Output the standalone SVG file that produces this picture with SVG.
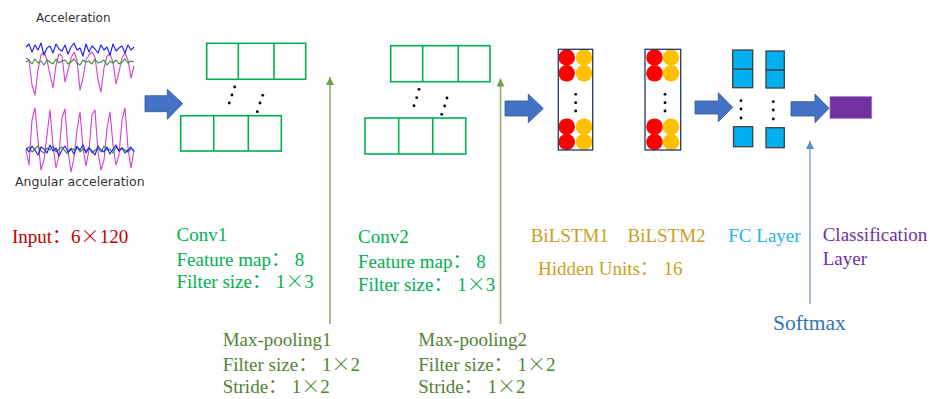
<svg xmlns="http://www.w3.org/2000/svg" width="932" height="399" viewBox="0 0 932 399">
<style>
.t{font-family:"Liberation Serif","Noto Sans CJK SC",serif;font-size:19px}
.x{font-family:"Noto Sans CJK SC",sans-serif;font-weight:300}
.s{font-family:"DejaVu Sans",sans-serif;font-size:12px;fill:#333}
.g{fill:none;stroke:#00b050;stroke-width:1.6}
.ar{fill:#4472c4;stroke:#2f5597;stroke-width:0.8}
.red{fill:#ff0000}.yel{fill:#ffc000}
.box{fill:none;stroke:#1f3864;stroke-width:1.3}
.fc{fill:#00b0f0;stroke:#404040;stroke-width:1.3}
.dot{fill:#000}
.sig{fill:none;stroke-width:1.1;stroke-linejoin:round}
</style>
<defs>
<marker id="ga" markerWidth="10" markerHeight="10" refX="8" refY="4" orient="auto" markerUnits="userSpaceOnUse"><path d="M0,0 L8,4 L0,8 z" fill="#70a04c"/></marker>
<marker id="ba" markerWidth="10" markerHeight="10" refX="8" refY="4" orient="auto" markerUnits="userSpaceOnUse"><path d="M0,0 L8,4 L0,8 z" fill="#5b8bd6"/></marker>
</defs>
<rect width="932" height="399" fill="#fff"/>

<g id="input">
<text class="s" x="36" y="22">Acceleration</text>
<polyline class="sig" stroke="#d040d0" points="26,58 29,60 32,85 35,95 38,70 41,55 44,52 47,60 50,75 53,88 56,65 59,54 62,56 65,82 68,70 71,58 74,52 77,60 80,90 83,78 86,60 89,55 92,52 95,57 98,80 101,92 104,68 107,56 110,54 113,62 116,84 119,72 122,58 125,53 128,60 131,78 134,66"/>
<polyline class="sig" stroke="#3a8a3a" points="26,62 29,60 32,64 35,59 38,63 41,61 44,65 47,60 50,62 53,64 56,59 59,63 62,61 65,60 68,64 71,62 74,59 77,63 80,65 83,60 86,62 89,61 92,64 95,59 98,63 101,62 104,60 107,65 110,61 113,63 116,60 119,64 122,62 125,59 128,63 131,61 134,62"/>
<polyline class="sig" stroke="#1a1aff" points="26,47 29,44 32,52 35,45 38,50 41,43 44,55 47,48 50,46 53,53 56,44 59,49 62,51 65,45 68,54 71,47 74,43 77,50 80,48 83,56 86,44 89,52 92,46 95,49 98,53 101,45 104,50 107,47 110,55 113,44 116,51 119,48 122,46 125,53 128,45 131,50 134,47"/>
<polyline class="sig" stroke="#d040d0" points="26,150 29,165 32,120 35,108 38,140 41,170 44,160 47,135 50,110 53,145 56,168 59,155 62,118 65,109 68,150 71,172 74,158 77,130 80,112 83,148 86,166 89,150 92,115 95,110 98,152 101,170 104,160 107,128 110,112 113,145 116,165 119,155 122,120 125,108 128,148 131,168 134,150"/>
<polyline class="sig" stroke="#3a8a3a" points="26,150 29,147 32,152 35,149 38,146 41,151 44,153 47,148 50,150 53,146 56,152 59,149 62,147 65,151 68,154 71,148 74,150 77,146 80,152 83,149 86,151 89,147 92,153 95,150 98,148 101,152 104,146 107,150 110,149 113,153 116,147 119,151 122,148 125,150 128,152 131,149 134,150"/>
<polyline class="sig" stroke="#1a1aff" points="26,148 29,152 32,146 35,150 38,155 41,147 44,149 47,153 50,145 53,151 56,148 59,156 62,150 65,146 68,152 71,149 74,154 77,147 80,150 83,145 86,153 89,148 92,151 95,155 98,146 101,150 104,152 107,147 110,154 113,149 116,145 119,151 122,148 125,153 128,150 131,147 134,152"/>
<text class="s" x="15" y="186" style="font-size:12.5px">Angular acceleration</text>
</g>

<g id="conv1">
<rect class="g" x="206.7" y="43.3" width="99" height="36"/>
<line class="g" x1="238.3" y1="43.3" x2="238.3" y2="79.3"/>
<line class="g" x1="274" y1="43.3" x2="274" y2="79.3"/>
<rect class="g" x="180.7" y="115.7" width="100.6" height="35.3"/>
<line class="g" x1="213.7" y1="115.7" x2="213.7" y2="151"/>
<line class="g" x1="248.3" y1="115.7" x2="248.3" y2="151"/>
<circle class="dot" cx="234.7" cy="87" r="1.4"/><circle class="dot" cx="232" cy="95" r="1.4"/><circle class="dot" cx="229.3" cy="103" r="1.4"/>
<circle class="dot" cx="262.7" cy="95.3" r="1.4"/><circle class="dot" cx="260" cy="103" r="1.4"/><circle class="dot" cx="257.3" cy="111.7" r="1.4"/>
</g>

<g id="conv2">
<rect class="g" x="390.7" y="45.7" width="99.3" height="36"/>
<line class="g" x1="422.7" y1="45.7" x2="422.7" y2="81.7"/>
<line class="g" x1="458.3" y1="45.7" x2="458.3" y2="81.7"/>
<rect class="g" x="365" y="118" width="100.7" height="36"/>
<line class="g" x1="398.7" y1="118" x2="398.7" y2="154"/>
<line class="g" x1="432.7" y1="118" x2="432.7" y2="154"/>
<circle class="dot" cx="419" cy="89.3" r="1.4"/><circle class="dot" cx="416.7" cy="97.7" r="1.4"/><circle class="dot" cx="414" cy="105.7" r="1.4"/>
<circle class="dot" cx="447" cy="98" r="1.4"/><circle class="dot" cx="444.7" cy="106" r="1.4"/><circle class="dot" cx="441.7" cy="114.3" r="1.4"/>
</g>

<g id="bilstm1">
<circle class="red" cx="566.7" cy="57.5" r="8.3"/><circle class="yel" cx="584" cy="57.5" r="8.3"/>
<circle class="red" cx="566.7" cy="73.3" r="8.3"/><circle class="yel" cx="584" cy="73.3" r="8.3"/>
<circle class="red" cx="566.7" cy="126.7" r="8.3"/><circle class="yel" cx="584" cy="126.7" r="8.3"/>
<circle class="red" cx="566.7" cy="142" r="8.3"/><circle class="yel" cx="584" cy="142" r="8.3"/>
<rect class="box" x="558.3" y="49.3" width="34.4" height="100.7"/>
<circle class="dot" cx="575.7" cy="94.3" r="1.4"/><circle class="dot" cx="575.7" cy="102.7" r="1.4"/><circle class="dot" cx="575.7" cy="111" r="1.4"/>
</g>

<g id="bilstm2">
<circle class="red" cx="654.5" cy="57.5" r="8.3"/><circle class="yel" cx="671" cy="57.5" r="8.3"/>
<circle class="red" cx="654.5" cy="73.3" r="8.3"/><circle class="yel" cx="671" cy="73.3" r="8.3"/>
<circle class="red" cx="654.5" cy="126.7" r="8.3"/><circle class="yel" cx="671" cy="126.7" r="8.3"/>
<circle class="red" cx="654.5" cy="142" r="8.3"/><circle class="yel" cx="671" cy="142" r="8.3"/>
<rect class="box" x="645" y="49.3" width="35.7" height="100.7"/>
<circle class="dot" cx="665" cy="94.3" r="1.4"/><circle class="dot" cx="665" cy="102.7" r="1.4"/><circle class="dot" cx="665" cy="111" r="1.4"/>
</g>

<g id="fc">
<rect class="fc" x="732.7" y="50" width="20" height="19.3"/>
<rect class="fc" x="732.7" y="69.3" width="20" height="18.4"/>
<rect class="fc" x="733.5" y="126.7" width="19.2" height="20"/>
<rect class="fc" x="766" y="51" width="18.3" height="19"/>
<rect class="fc" x="766" y="70" width="18.3" height="18"/>
<rect class="fc" x="766" y="127.7" width="18.3" height="20"/>
<circle class="dot" cx="741" cy="100.7" r="1.4"/><circle class="dot" cx="741" cy="109" r="1.4"/><circle class="dot" cx="741" cy="118" r="1.4"/>
<circle class="dot" cx="773.3" cy="101.7" r="1.4"/><circle class="dot" cx="773.3" cy="110" r="1.4"/><circle class="dot" cx="773.3" cy="119" r="1.4"/>
</g>

<g id="classification">
<rect x="830" y="96.7" width="41.7" height="21.6" fill="#7030a0" stroke="#a070c8" stroke-width="0.8"/>
</g>

<g id="connectors">
<polygon class="ar" points="145,95.7 167.3,95.7 167.3,89.3 182.7,103.5 167.3,119.3 167.3,111.7 145,111.7"/>
<polygon class="ar" points="505,101 528.3,101 528.3,94 543.3,108.5 528.3,122.7 528.3,116 505,116"/>
<polygon class="ar" points="695,101 718.3,101 718.3,92.7 732.7,107.3 718.3,121.7 718.3,114 695,114"/>
<polygon class="ar" points="791,101.7 815,101.7 815,94 829,108.3 815,122.7 815,116 791,116"/>
<line x1="330" y1="324" x2="330" y2="77" stroke="#8db071" stroke-width="1.6" marker-end="url(#ga)"/>
<line x1="500.5" y1="324" x2="500.5" y2="78.5" stroke="#8db071" stroke-width="1.6" marker-end="url(#ga)"/>
<line x1="810" y1="304" x2="810" y2="141" stroke="#8eaadb" stroke-width="1.6" marker-end="url(#ba)"/>
</g>

<g id="labels">
<text class="t" x="12" y="243" fill="#c00000">Input：6<tspan class="x">×</tspan>120</text>
<text class="t" x="176.5" y="240.7" fill="#00b050">Conv1</text>
<text class="t" x="176.5" y="265.7" fill="#00b050">Feature map：  8</text>
<text class="t" x="176.5" y="288" fill="#00b050">Filter size：  1<tspan class="x">×</tspan>3</text>
<text class="t" x="358" y="243.3" fill="#00b050">Conv2</text>
<text class="t" x="358" y="268.3" fill="#00b050">Feature map：  8</text>
<text class="t" x="358" y="290.7" fill="#00b050">Filter size：  1<tspan class="x">×</tspan>3</text>
<text class="t" x="530.7" y="241.7" fill="#c9a021">BiLSTM1</text>
<text class="t" x="627.5" y="241.7" fill="#c9a021">BiLSTM2</text>
<text class="t" x="538" y="275" fill="#c9a021">Hidden Units：  16</text>
<text class="t" x="728.3" y="241.7" fill="#1fb5ea">FC Layer</text>
<text class="t" x="822.7" y="241" fill="#7030a0">Classification</text>
<text class="t" x="822.7" y="265" fill="#7030a0">Layer</text>
<text class="t" x="773" y="330" fill="#2e75b6" style="font-size:21.5px">Softmax</text>
<text class="t" x="222.7" y="346" fill="#548235">Max-pooling1</text>
<text class="t" x="222.7" y="371" fill="#548235">Filter size：  1<tspan class="x">×</tspan>2</text>
<text class="t" x="222.7" y="392.7" fill="#548235">Stride：  1<tspan class="x">×</tspan>2</text>
<text class="t" x="418.3" y="346" fill="#548235">Max-pooling2</text>
<text class="t" x="418.3" y="371" fill="#548235">Filter size：  1<tspan class="x">×</tspan>2</text>
<text class="t" x="418.3" y="392.7" fill="#548235">Stride：  1<tspan class="x">×</tspan>2</text>
</g>
</svg>
